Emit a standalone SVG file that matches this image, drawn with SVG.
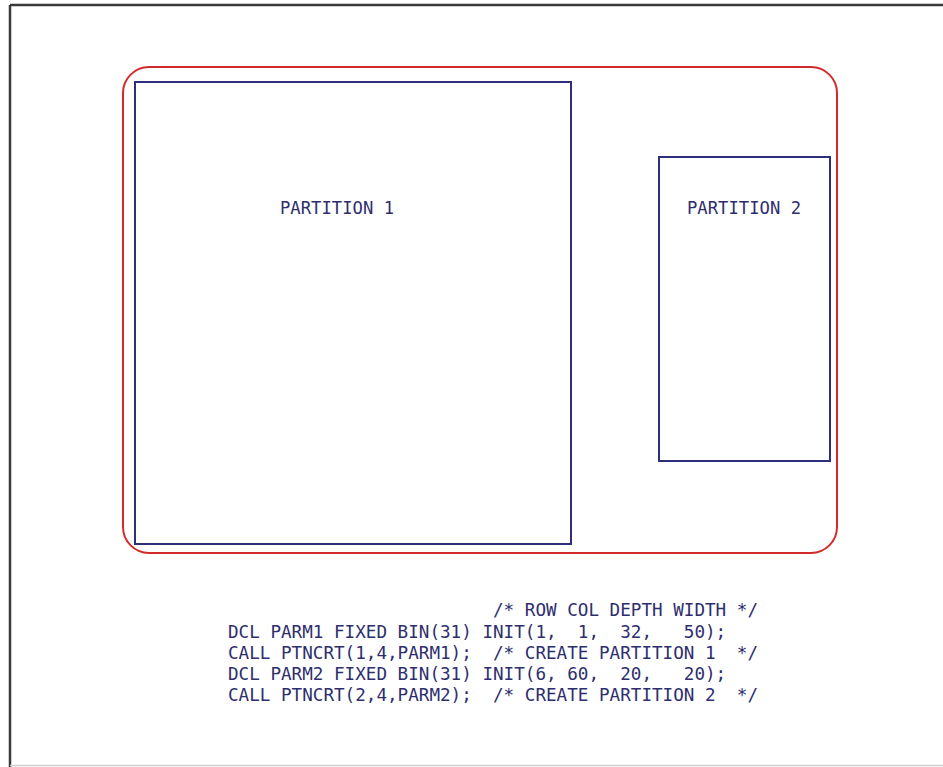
<svg xmlns="http://www.w3.org/2000/svg" width="943" height="767" viewBox="0 0 943 767">
<style>
.frame{fill:none;stroke:#3a3a3a;stroke-width:2.5}
.region{fill:none;stroke:#d42a2a;stroke-width:2}
.part{fill:none;stroke:#2e2e7a;stroke-width:2}
.lbl{font-family:"DejaVu Sans Mono","Liberation Mono",monospace;font-size:17px;fill:#2e2e6e}
.code{font-family:"DejaVu Sans Mono","Liberation Mono",monospace;font-size:18px;fill:#2e2e6e;white-space:pre}
</style>
<rect width="943" height="767" fill="#ffffff"/>
<g id="page-frame">
<line class="frame" x1="10" y1="5" x2="943" y2="5"/>
<line class="frame" x1="10" y1="5" x2="10" y2="767"/>
<line x1="10" y1="765.5" x2="943" y2="765.5" stroke="#cfcfcf" stroke-width="1.5"/>
</g>
<g id="screen">
<rect class="region" x="123" y="67" width="714" height="486" rx="26" ry="26"/>
</g>
<g id="partition1">
<rect class="part" x="135" y="82" width="436" height="462"/>
<text class="lbl" x="280" y="214" textLength="114" lengthAdjust="spacingAndGlyphs">PARTITION 1</text>
</g>
<g id="partition2">
<rect class="part" x="659" y="157" width="171" height="304"/>
<text class="lbl" x="687" y="214" textLength="114" lengthAdjust="spacingAndGlyphs">PARTITION 2</text>
</g>
<g id="connectors"></g>
<g id="code">
<text class="code" xml:space="preserve" x="493" y="616" textLength="265" lengthAdjust="spacingAndGlyphs">/* ROW COL DEPTH WIDTH */</text>
<text class="code" xml:space="preserve" x="228" y="638" textLength="498.2" lengthAdjust="spacingAndGlyphs">DCL PARM1 FIXED BIN(31) INIT(1,  1,  32,   50);</text>
<text class="code" xml:space="preserve" x="228" y="659" textLength="530" lengthAdjust="spacingAndGlyphs">CALL PTNCRT(1,4,PARM1);  /* CREATE PARTITION 1  */</text>
<text class="code" xml:space="preserve" x="228" y="680" textLength="498.2" lengthAdjust="spacingAndGlyphs">DCL PARM2 FIXED BIN(31) INIT(6, 60,  20,   20);</text>
<text class="code" xml:space="preserve" x="228" y="701" textLength="530" lengthAdjust="spacingAndGlyphs">CALL PTNCRT(2,4,PARM2);  /* CREATE PARTITION 2  */</text>
</g>
</svg>
